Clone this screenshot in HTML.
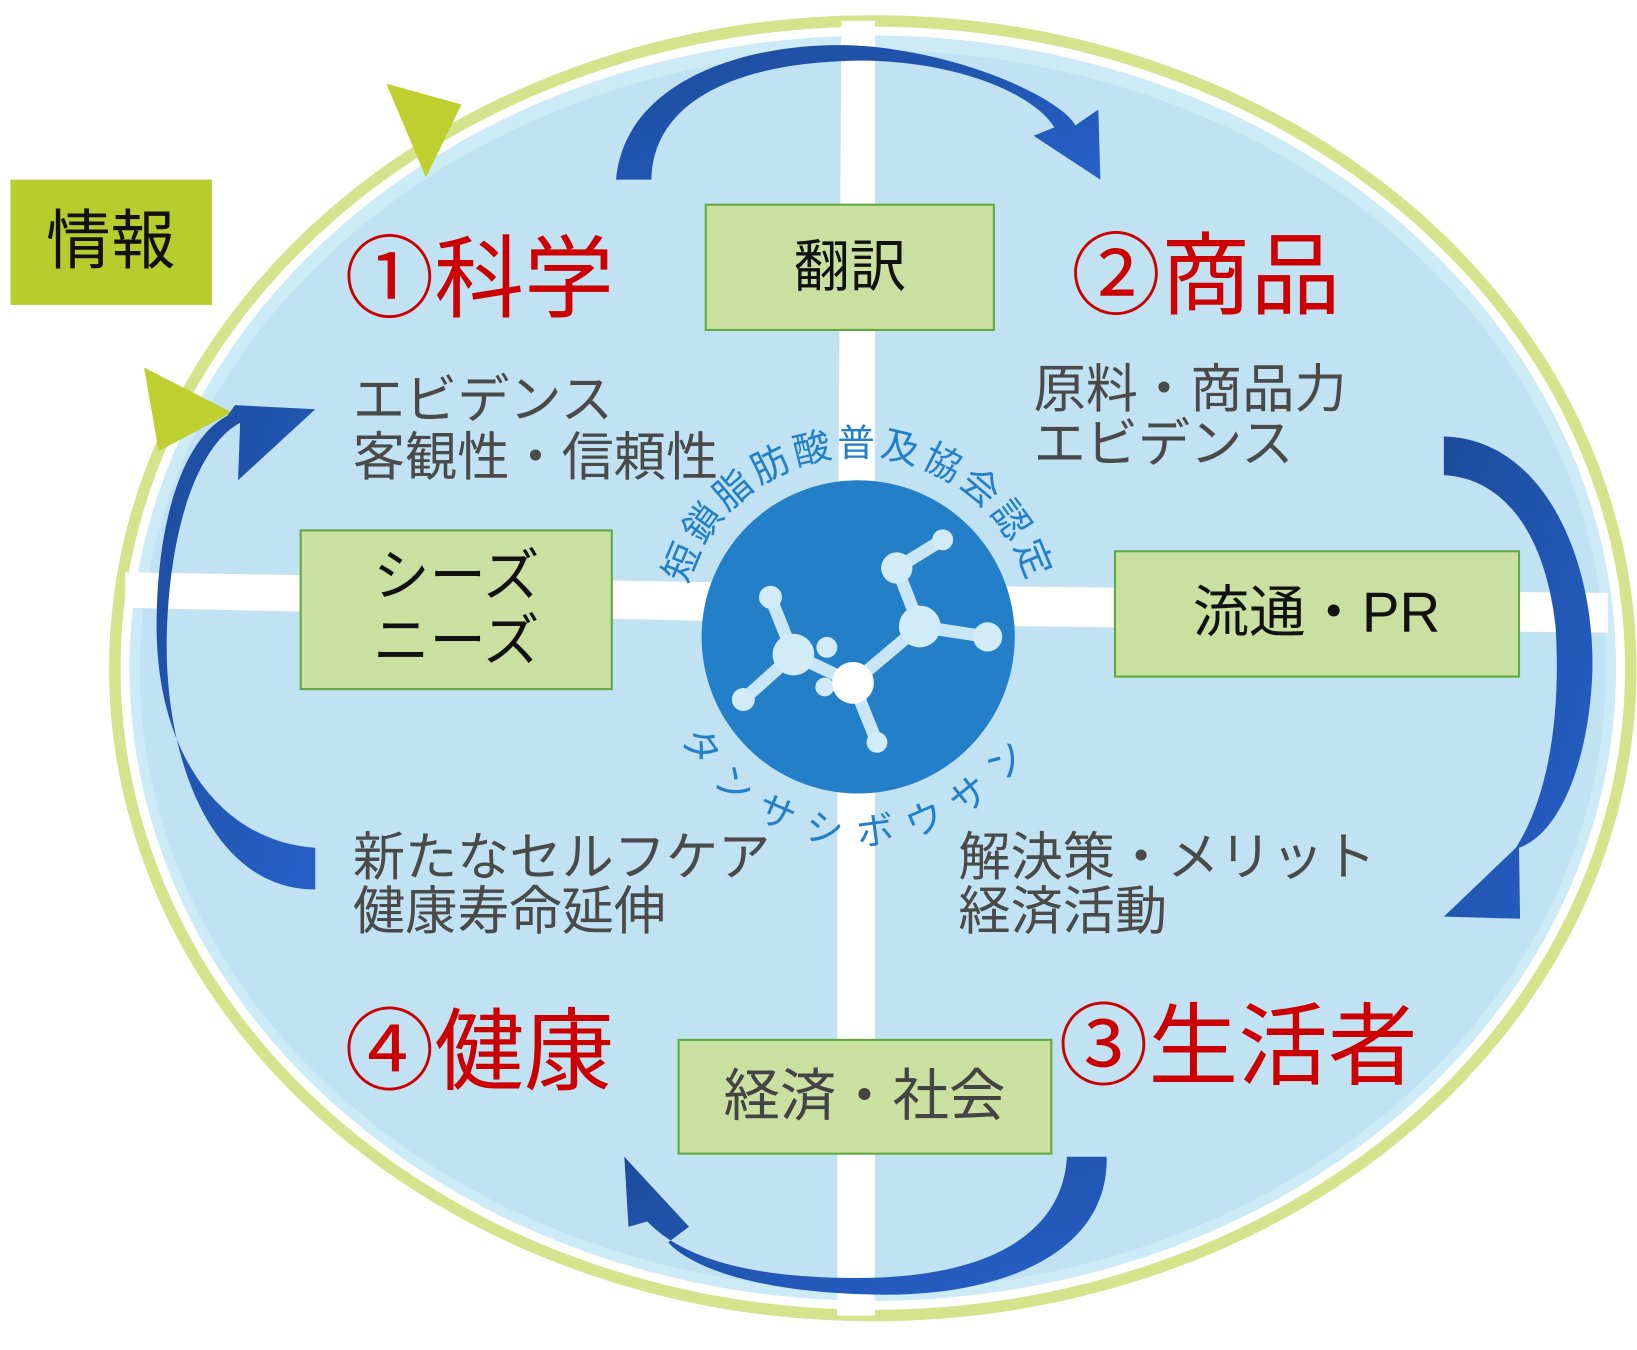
<!DOCTYPE html>
<html><head><meta charset="utf-8"><style>
html,body{margin:0;padding:0;background:#fff;}
svg{display:block;}
text{font-family:"Liberation Sans","Noto Sans CJK JP",sans-serif;}
</style></head><body>
<svg width="1637" height="1350" viewBox="0 0 1568 1293" xmlns="http://www.w3.org/2000/svg">
<defs>
<linearGradient id="ag" x1="0" y1="0" x2="1" y2="1">
<stop offset="0" stop-color="#1d4c9c"/><stop offset="1" stop-color="#2660c8"/>
</linearGradient>
</defs>
<ellipse cx="836" cy="640" rx="726" ry="620" fill="#fff" stroke="#d5e38c" stroke-width="11"/>
<ellipse cx="836" cy="640" rx="712" ry="606" fill="#cdeaf7"/>
<ellipse cx="836" cy="642" rx="702" ry="594" fill="#c0e2f3"/>
<polygon points="806,20 838,20 838,1260 802,1260 802,640" fill="#fff"/>
<polygon points="120,548 820,560 1540,568 1540,606 820,598 120,582" fill="#fff"/>
<rect x="10" y="172" width="193" height="120" fill="#b7cd2e"/>
<text x="106" y="252" font-size="62" text-anchor="middle" fill="#111">情報</text>
<polygon points="370,80 442,100 408,170" fill="#bdd02f"/>
<polygon points="138,352 222,395 152,432" fill="#bdd02f"/>
<path d="M590,172 C600,60 760,30 860,48 C950,62 1020,100 1030,120 L1052,105 L1054,172 L990,130 L1010,122 C990,90 920,60 830,58 C700,58 625,100 624,172 Z" fill="url(#ag)"/>
<path d="M1383,418 C1480,420 1530,540 1525,650 C1520,740 1490,800 1455,812 L1456,880 L1383,878 L1452,812 C1485,760 1495,680 1490,600 C1480,510 1440,458 1383,455 Z" fill="url(#ag)"/>
<path d="M1060,1108 C1062,1200 960,1242 840,1240 C720,1238 660,1212 640,1190 L660,1175 L598,1108 L602,1175 L620,1170 C660,1212 740,1225 830,1224 C950,1222 1018,1180 1022,1108 Z" fill="url(#ag)"/>
<path d="M302,852 C200,852 155,720 160,600 C165,480 200,420 230,405 L228,460 L302,392 L225,388 L218,398 C175,420 150,500 150,600 C150,720 210,806 302,812 Z" fill="url(#ag)"/>
<rect x="676" y="196" width="276" height="120" fill="#c9e0a1" stroke="#5faa3f" stroke-width="2"/>
<text x="814" y="274" font-size="54" text-anchor="middle" fill="#111">翻訳</text>
<rect x="288" y="508" width="298" height="152" fill="#c9e0a1" stroke="#5faa3f" stroke-width="2"/>
<text x="437" y="570" font-size="54" text-anchor="middle" fill="#111">シーズ</text>
<text x="437" y="632" font-size="54" text-anchor="middle" fill="#111">ニーズ</text>
<rect x="1068" y="528" width="387" height="120" fill="#c9e0a1" stroke="#5faa3f" stroke-width="2"/>
<text x="1261" y="605" font-size="54" text-anchor="middle" fill="#111">流通・PR</text>
<rect x="650" y="996" width="357" height="109" fill="#c9e0a1" stroke="#5faa3f" stroke-width="2"/>
<text x="828" y="1068" font-size="54" text-anchor="middle" fill="#444">経済・社会</text>
<g font-size="86" fill="#cc0000">
<text x="330" y="297">①科学</text>
<text x="1026" y="294">②商品</text>
<text x="330" y="1037">④健康</text>
<text x="1014" y="1032">③生活者</text>
</g>
<g font-size="50" fill="#4a4a4a">
<text x="338" y="400">エビデンス</text>
<text x="338" y="455">客観性・信頼性</text>
<text x="990" y="390">原料・商品力</text>
<text x="990" y="442">エビデンス</text>
<text x="338" y="838">新たなセルフケア</text>
<text x="338" y="890">健康寿命延伸</text>
<text x="918" y="838">解決策・メリット</text>
<text x="918" y="890">経済活動</text>
</g>
<circle cx="822" cy="610" r="150" fill="#2380c8"/>
<path id="tarc" d="M653,625 A170,170 0 1 1 991,625" fill="none"/>
<path id="barc" d="M660,720 A192,192 0 0 0 984,720" fill="none"/>
<text font-size="36" fill="#2380c8" letter-spacing="4"><textPath href="#tarc" startOffset="50%" text-anchor="middle">短鎖脂肪酸普及協会認定</textPath></text>
<text font-size="36" fill="#2380c8" letter-spacing="16"><textPath href="#barc" startOffset="50%" text-anchor="middle">タンサシボウサン</textPath></text>
<g stroke="#c9e6f6" stroke-width="12" stroke-linecap="round">
<line x1="903" y1="517" x2="859" y2="544"/><line x1="859" y1="544" x2="881" y2="600"/>
<line x1="881" y1="600" x2="946" y2="610"/><line x1="881" y1="600" x2="817" y2="654"/>
<line x1="817" y1="654" x2="840" y2="711"/><line x1="817" y1="654" x2="760" y2="627"/>
<line x1="760" y1="627" x2="738" y2="572"/><line x1="760" y1="627" x2="712" y2="670"/>
</g>
<g fill="#d2ebf8">
<circle cx="903" cy="517" r="10"/><circle cx="859" cy="544" r="15"/><circle cx="881" cy="600" r="20"/>
<circle cx="946" cy="610" r="14"/><circle cx="840" cy="711" r="10"/><circle cx="790" cy="658" r="9"/>
<circle cx="760" cy="627" r="20"/><circle cx="738" cy="572" r="11"/><circle cx="712" cy="670" r="11"/><circle cx="792" cy="620" r="10"/>
</g>
<circle cx="817" cy="654" r="20" fill="#fff"/>
</svg>
</body></html>
